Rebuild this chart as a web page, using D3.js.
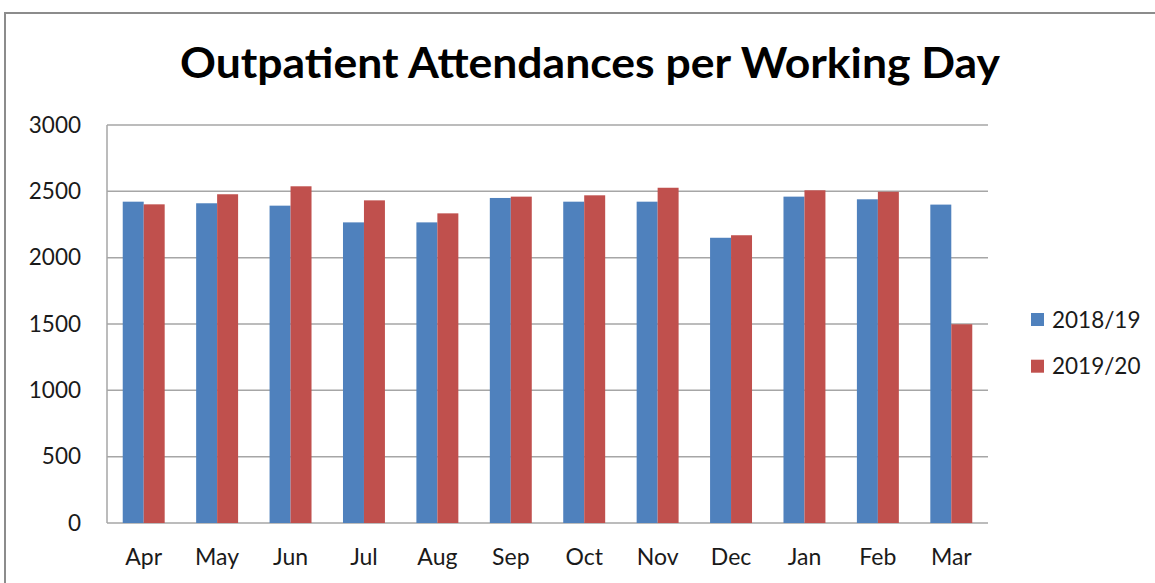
<!DOCTYPE html>
<html><head><meta charset="utf-8">
<script src="https://cdn.jsdelivr.net/npm/d3@7"></script>
<style>body{margin:0;background:#fff;}svg{display:block;}</style>
</head><body>
<svg id="c" width="1155" height="583"></svg>
<script>
const months = ["Apr","May","Jun","Jul","Aug","Sep","Oct","Nov","Dec","Jan","Feb","Mar"];
const series = ["2018/19","2019/20"];
const values1819 = [2422,2410,2392,2266,2266,2450,2422,2422,2150,2460,2440,2400];
const values1920 = [2402,2478,2538,2432,2334,2460,2470,2527,2169,2508,2497,1498];
const yTicks = [0,500,1000,1500,2000,2500,3000];
const colors = ["#4F81BD","#C0504D"];

const svg = d3.select("#c");
const font = "Lato, 'Open Sans', sans-serif";
// frame
svg.append("rect").attr("x",5).attr("y",13).attr("width",1200).attr("height",640)
  .attr("fill","none").attr("stroke","#8c8c8c").attr("stroke-width",2);

const L=107, R=988, T=125, B=523;
const x = d3.scaleBand().domain(months).range([L,R]).paddingInner(1.5/3.5).paddingOuter(0.75/3.5);
const xs = d3.scaleBand().domain(series).range([0,x.bandwidth()]);
const y = d3.scaleLinear().domain([0,3000]).range([B,T]);

// gridlines
svg.append("g").selectAll("line").data(yTicks).join("line")
  .attr("x1",L).attr("x2",R).attr("y1",d=>y(d)).attr("y2",d=>y(d))
  .attr("stroke","#a6a6a6").attr("stroke-width",1.5);
svg.append("line").attr("x1",L).attr("x2",L).attr("y1",T).attr("y2",B)
  .attr("stroke","#a6a6a6").attr("stroke-width",1.5);

// y labels
const yAxis = d3.axisLeft(y).tickValues(yTicks).tickSize(0).tickPadding(26).tickFormat(d3.format("d"));
const gy = svg.append("g").attr("transform",`translate(${L},0)`).call(yAxis);
gy.select(".domain").remove();
gy.selectAll("text").attr("font-family",font).attr("font-size",22.5).attr("fill","#1a1a1a");

// x labels
const xAxis = d3.axisBottom(x).tickSize(0).tickPadding(26);
const gx = svg.append("g").attr("transform",`translate(0,${B})`).call(xAxis);
gx.select(".domain").remove();
gx.selectAll("text").attr("font-family",font).attr("font-size",23).attr("fill","#1a1a1a");

// bars
const data = [values1819, values1920];
data.forEach((vals,si)=>{
  svg.append("g").selectAll("rect").data(vals).join("rect")
    .attr("x",(d,i)=>x(months[i])+xs(series[si]))
    .attr("width",xs.bandwidth())
    .attr("y",d=>y(d)).attr("height",d=>B-y(d))
    .attr("fill",colors[si]);
});

// title
svg.append("text").attr("x",(180+1000)/2).attr("y",78).attr("text-anchor","middle")
  .attr("font-family",font).attr("font-weight","bold").attr("font-size",42)
  .attr("textLength",820).attr("lengthAdjust","spacingAndGlyphs")
  .text("Outpatient Attendances per Working Day");

// legend
const lg = svg.append("g").selectAll("g").data(series).join("g")
  .attr("transform",(d,i)=>`translate(1031,${313+i*46.7})`);
lg.append("rect").attr("width",13).attr("height",13).attr("fill",(d,i)=>colors[i]);
lg.append("text").attr("x",21).attr("y",6.5).attr("dy","0.36em")
  .attr("font-family",font).attr("font-size",22.5).attr("fill","#1a1a1a").text(d=>d);
</script>
</body></html>
